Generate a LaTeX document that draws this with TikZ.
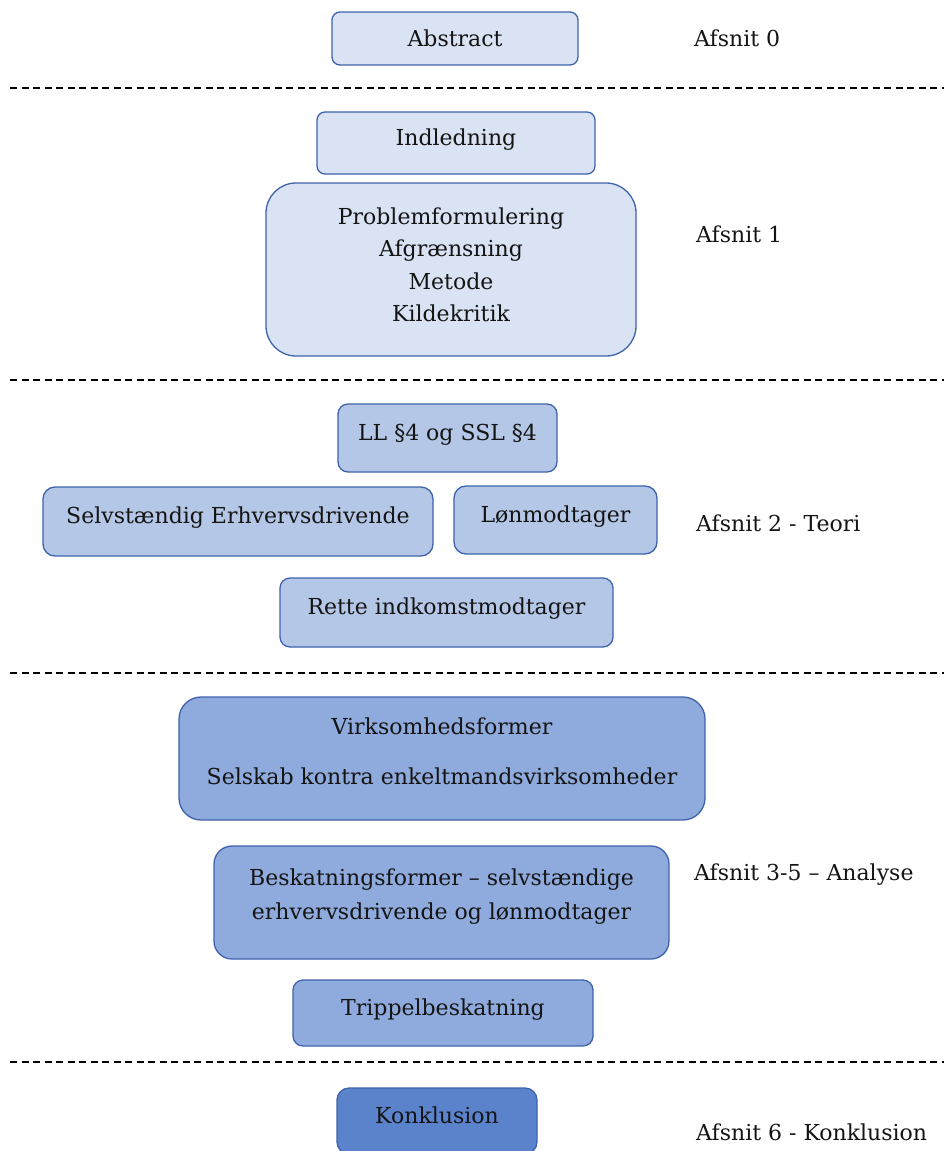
\documentclass[tikz,border=0pt]{standalone}
\usepackage{fontspec}
\setmainfont{DejaVu Serif}
\definecolor{paleblue}{RGB}{218,227,243}
\definecolor{softblue}{RGB}{180,199,231}
\definecolor{midblue}{RGB}{143,170,220}
\definecolor{deepblue}{RGB}{90,131,204}
\definecolor{rimblue}{RGB}{62,99,172}
\definecolor{ink}{RGB}{20,20,20}

\begin{document}
\begin{tikzpicture}[x=1pt, y=-1pt,
    box/.style={draw=rimblue, line width=1.3pt, text=ink, align=center,
        font=\fontsize{22}{32.5}\selectfont, inner sep=4pt},
    lifted/.style={text height=14pt, text depth=10pt},
    sect/.style={anchor=base west, text=ink, font=\fontsize{22}{26}\selectfont, inner sep=0pt},
    sep/.style={line width=1.3pt, dash pattern=on 7pt off 4.5pt}]
    \useasboundingbox (0,0) rectangle (944,1151);
    \clip (0,0) rectangle (944,1151);
    \node[box, fill=paleblue, rounded corners=8pt, minimum width=246pt, minimum height=53pt] (abstract) at (455,38.5) {Abstract};
    \node[sect] (afsnit0) at (694,46) {Afsnit 0};
    \draw[sep] (10,88) -- (944,88);
    \node[box, lifted, fill=paleblue, rounded corners=8pt, minimum width=278pt, minimum height=62pt] (indledning) at (456,143) {Indledning};
    \node[box, fill=paleblue, rounded corners=30pt, minimum width=370pt, minimum height=173pt, text depth=10pt] (problem) at (451,269.5)
        {Problemformulering\\Afgrænsning\\Metode\\Kildekritik};
    \node[sect] (afsnit1) at (696,242) {Afsnit 1};
    \draw[sep] (10,380) -- (944,380);
    \node[box, lifted, fill=softblue, rounded corners=10pt, minimum width=219pt, minimum height=68pt] (lovgrundlag) at (447.5,438) {LL §4 og SSL §4};
    \node[box, lifted, fill=softblue, rounded corners=12pt, minimum width=390pt, minimum height=69pt] (selvst) at (238,521.5) {Selvstændig Erhvervsdrivende};
    \node[box, lifted, fill=softblue, rounded corners=12pt, minimum width=203pt, minimum height=68pt] (loenmodt) at (555.5,520) {Lønmodtager};
    \node[box, lifted, fill=softblue, rounded corners=10pt, minimum width=333pt, minimum height=69pt] (rette) at (446.5,612.5) {Rette indkomstmodtager};
    \node[sect] (afsnit2) at (696,531) {Afsnit 2 - Teori};
    \draw[sep] (10,673) -- (944,673);
    \node[box, fill=midblue, rounded corners=22pt, minimum width=526pt, minimum height=123pt, text depth=14pt] (virksomhed) at (442,758.5)
        {Virksomhedsformer\\[17.5pt]Selskab kontra enkeltmandsvirksomheder};
    \node[box, fill=midblue, rounded corners=18pt, minimum width=455pt, minimum height=113pt, text depth=17pt,
        font=\fontsize{22}{34}\selectfont] (beskatning) at (441.5,902.5)
        {Beskatningsformer – selvstændige\\erhvervsdrivende og lønmodtager};
    \node[box, lifted, fill=midblue, rounded corners=10pt, minimum width=300pt, minimum height=66pt] (trippel) at (443,1013) {Trippelbeskatning};
    \node[sect] (afsnit35) at (694,880) {Afsnit 3-5 – Analyse};
    \draw[sep] (10,1062) -- (944,1062);
    \node[box, lifted, fill=deepblue, rounded corners=12pt, minimum width=200pt, minimum height=66pt] (konklusion) at (437,1121) {Konklusion};
    \node[sect] (afsnit6) at (696,1140) {Afsnit 6 - Konklusion};
\end{tikzpicture}
\end{document}
